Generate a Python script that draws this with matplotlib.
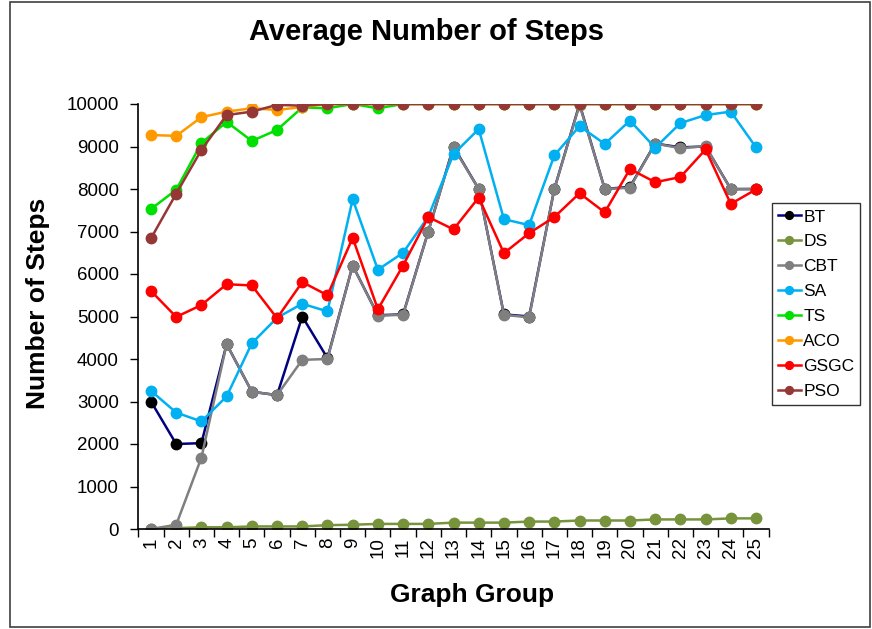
import matplotlib
matplotlib.use("Agg")
import matplotlib.pyplot as plt
from matplotlib.patches import Rectangle
import numpy as np

plt.rcParams['font.family'] = ['Liberation Sans', 'DejaVu Sans']

groups = list(range(1, 26))

bt = [3000, 2000, 2020, 4350, 3230, 3150, 5000, 4020, 6200, 5030, 5050, 7000, 9000,
      8000, 5050, 5000, 8000, 10000, 8000, 8050, 9070, 8980, 9000, 8000, 8000]
ds = [0, 20, 40, 40, 60, 60, 60, 90, 100, 120, 120, 120, 150, 150, 150, 175, 175,
      200, 200, 200, 225, 225, 225, 250, 250]
cbt = [0, 100, 1680, 4350, 3230, 3150, 3980, 4000, 6200, 5020, 5040, 7000, 8980,
       8000, 5040, 4980, 8000, 9980, 8000, 8030, 9070, 8960, 9010, 7990, 8000]
sa = [3250, 2740, 2530, 3120, 4370, 4970, 5300, 5120, 7760, 6100, 6500, 7350, 8820,
      9410, 7290, 7150, 8790, 9480, 9060, 9610, 8970, 9550, 9740, 9820, 8980]
ts = [7530, 7980, 9080, 9580, 9130, 9390, 9920, 9900, 10000, 9900, 10000, 10000, 10000,
      10000, 10000, 10000, 10000, 10000, 10000, 10000, 10000, 10000, 10000, 10000, 10000]
aco = [9270, 9250, 9690, 9820, 9900, 9860, 9930, 10000, 10000, 10000, 10000, 10000, 10000,
       10000, 10000, 10000, 10000, 10000, 10000, 10000, 10000, 10000, 10000, 10000, 10000]
gsgc = [5600, 4990, 5270, 5760, 5730, 4960, 5810, 5500, 6850, 5170, 6200, 7340, 7050,
        7800, 6490, 6960, 7340, 7900, 7450, 8470, 8160, 8280, 8930, 7650, 7990]
pso = [6840, 7890, 8920, 9740, 9820, 9980, 9960, 10000, 10000, 10000, 10000, 10000, 10000,
       10000, 10000, 10000, 10000, 10000, 10000, 10000, 10000, 10000, 10000, 10000, 10000]

series = [
    ("BT", bt, "#000080", "#000000"),
    ("DS", ds, "#77933C", "#77933C"),
    ("CBT", cbt, "#7F7F7F", "#7F7F7F"),
    ("SA", sa, "#00B0F0", "#00B0F0"),
    ("TS", ts, "#00E000", "#00E000"),
    ("ACO", aco, "#FF9900", "#FF9900"),
    ("GSGC", gsgc, "#FF0000", "#FF0000"),
    ("PSO", pso, "#953735", "#953735"),
]

fig = plt.figure(figsize=(8.72, 6.29), dpi=100)
ax = fig.add_axes([138.4 / 872, 1 - 529 / 629, 630.2 / 872, 425 / 629])

for name, vals, lc, mc in series:
    ax.plot(groups, vals, color=lc, lw=1.8, marker="o", ms=7.5,
            markerfacecolor=mc, markeredgecolor=mc, label=name)

ax.set_xlim(0.5, 25.5)
ax.set_ylim(0, 10000)
ax.set_yticks(np.arange(0, 10001, 1000))
ax.set_xticks(groups)
ax.set_xticks(np.arange(0.5, 26, 1), minor=True)
ax.tick_params(axis="x", which="major", length=0, labelsize=13.5, labelrotation=90, pad=6)
ax.tick_params(axis="x", which="minor", length=6, direction="out", width=1)
ax.tick_params(axis="y", length=6, direction="out", width=1, labelsize=13.5, pad=8)
for s in ["top", "right"]:
    ax.spines[s].set_visible(False)
ax.spines["left"].set_linewidth(1.2)
ax.spines["bottom"].set_linewidth(1.2)

fig.text(426 / 872, 1 - 32 / 629, "Average Number of Steps", ha="center", va="center",
         fontsize=21, fontweight="bold")
fig.text(38 / 872, 1 - 303 / 629, "Number of Steps", ha="center", va="center",
         rotation=90, fontsize=19, fontweight="bold")
fig.text(472 / 872, 1 - 595 / 629, "Graph Group", ha="center", va="center",
         fontsize=19, fontweight="bold")

leg = fig.legend(loc="center left", bbox_to_anchor=(772 / 872, 1 - 304 / 629),
                 fontsize=12.5, frameon=True, fancybox=False, handlelength=1.3,
                 handletextpad=0.15, labelspacing=0.56, borderpad=0.35,
                 borderaxespad=0, markerscale=0.75)
leg.get_frame().set_edgecolor("black")
leg.get_frame().set_linewidth(1.0)

fig.patches.append(Rectangle((10 / 872, 2 / 629), 860 / 872, 625 / 629,
                             transform=fig.transFigure, fill=False,
                             edgecolor="#404040", lw=1.2))

fig.savefig("out.png", dpi=100)
